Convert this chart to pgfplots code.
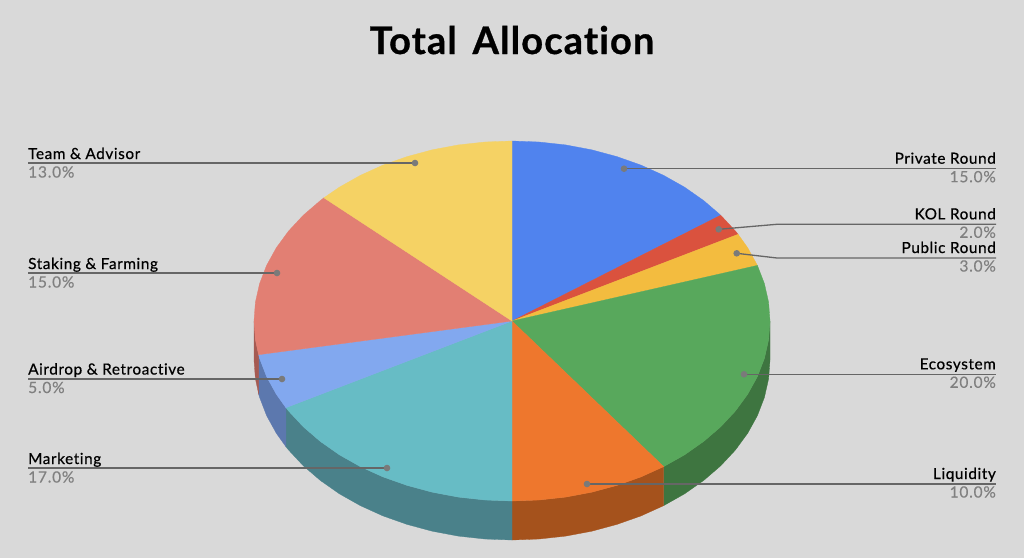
\documentclass[border=0pt]{standalone}
\usepackage{fontspec}
\usepackage{pgfplots}
\pgfplotsset{compat=1.18}
\setmainfont{Lato}
\newfontfamily\titlefont[FakeBold=0.8,LetterSpace=3,Ligatures=NoCommon]{Lato Bold}
\newfontfamily\namefont[FakeBold=0.5,LetterSpace=4,Ligatures=NoCommon]{Lato}
\newfontfamily\valfont[FakeBold=0.35,LetterSpace=5]{Lato}
\definecolor{bg}{HTML}{D9D9D9}
\definecolor{cblue}{HTML}{5083EE}
\definecolor{cred}{HTML}{DA523E}
\definecolor{cgold}{HTML}{F3BC3F}
\definecolor{cgreen}{HTML}{58A85C}
\definecolor{corange}{HTML}{EE772D}
\definecolor{cteal}{HTML}{67BCC5}
\definecolor{clblue}{HTML}{82A8EF}
\definecolor{csalmon}{HTML}{E27F73}
\definecolor{cyellow}{HTML}{F5D264}
\definecolor{sgreen}{HTML}{3E7540}
\definecolor{sorange}{HTML}{A5521C}
\definecolor{steal}{HTML}{4A818A}
\definecolor{sblue}{HTML}{5C78AE}
\definecolor{ssalmon}{HTML}{A55A52}
\definecolor{lead}{HTML}{666666}
\definecolor{dot}{HTML}{7A7A7A}
\definecolor{valc}{HTML}{808080}
\tikzset{
  wedge/.style={fill=#1,draw=#1,line width=0.3pt,mark=none},
  nametxt/.style={font=\namefont\fontsize{15.3pt}{15pt}\selectfont,text=black,inner sep=0pt},
  valtxt/.style={font=\valfont\fontsize{15.5pt}{15pt}\selectfont,text=valc,inner sep=0pt},
}
\pgfplotsset{
  leader/.style={color=lead,line width=1.3pt,mark=*,mark indices={1},mark size=2.6pt,
    mark options={fill=dot,draw=dot}},
}
\begin{document}
\begin{tikzpicture}
\begin{axis}[
  width=1024pt,height=558pt,scale only axis,
  xmin=0,xmax=1024,ymin=0,ymax=558,y dir=reverse,
  axis lines=none,clip=false,
]
\fill[bg] (rel axis cs:0,0) rectangle (rel axis cs:1,1);
% side walls
\addplot[wedge=sgreen] coordinates {(770,321)(768.6,339.8)(764.4,358.4)(757.4,376.6)(747.7,394.2)(735.4,411)(720.7,426.8)(703.7,441.4)(684.6,454.8)(663.7,466.6)(663.7,505.6)(684.6,493.8)(703.7,480.4)(720.7,465.8)(735.4,450)(747.7,433.2)(757.4,415.6)(764.4,397.4)(768.6,378.8)(770,360)} -- cycle;
\addplot[wedge=sorange] coordinates {(663.7,466.6)(641,476.9)(616.9,485.4)(591.7,492.2)(565.6,497.1)(539,500)(512,501)(512,540)(539,539)(565.6,536.1)(591.7,531.2)(616.9,524.4)(641,515.9)(663.7,505.6)} -- cycle;
\addplot[wedge=steal] coordinates {(512,501)(485,500)(458.4,497.1)(432.3,492.2)(407.1,485.4)(383,476.9)(360.3,466.6)(339.4,454.8)(320.3,441.4)(303.3,426.8)(288.6,411)(285.9,407.7)(285.9,446.7)(288.6,450)(303.3,465.8)(320.3,480.4)(339.4,493.8)(360.3,505.6)(383,515.9)(407.1,524.4)(432.3,531.2)(458.4,536.1)(485,539)(512,540)} -- cycle;
\addplot[wedge=sblue] coordinates {(285.9,407.7)(276.3,394.2)(266.6,376.6)(259.6,358.4)(258.6,354.7)(258.6,393.7)(259.6,397.4)(266.6,415.6)(276.3,433.2)(285.9,446.7)} -- cycle;
\addplot[wedge=ssalmon] coordinates {(258.6,354.7)(255.4,339.8)(254,321)(254,360)(255.4,378.8)(258.6,393.7)} -- cycle;
% top faces
\addplot[wedge=cblue] coordinates {(512,321)(512,141)(539,142)(565.6,144.9)(591.7,149.8)(616.9,156.6)(641,165.1)(663.7,175.4)(684.6,187.2)(703.7,200.6)(720.7,215.2)} -- cycle;
\addplot[wedge=cred] coordinates {(512,321)(720.7,215.2)(735.4,231)(738.1,234.3)} -- cycle;
\addplot[wedge=cgold] coordinates {(512,321)(738.1,234.3)(747.7,247.8)(757.4,265.4)} -- cycle;
\addplot[wedge=cgreen] coordinates {(512,321)(757.4,265.4)(764.4,283.6)(768.6,302.2)(770,321)(768.6,339.8)(764.4,358.4)(757.4,376.6)(747.7,394.2)(735.4,411)(720.7,426.8)(703.7,441.4)(684.6,454.8)(663.7,466.6)} -- cycle;
\addplot[wedge=corange] coordinates {(512,321)(663.7,466.6)(641,476.9)(616.9,485.4)(591.7,492.2)(565.6,497.1)(539,500)(512,501)} -- cycle;
\addplot[wedge=cteal] coordinates {(512,321)(512,501)(485,500)(458.4,497.1)(432.3,492.2)(407.1,485.4)(383,476.9)(360.3,466.6)(339.4,454.8)(320.3,441.4)(303.3,426.8)(288.6,411)(285.9,407.7)} -- cycle;
\addplot[wedge=clblue] coordinates {(512,321)(285.9,407.7)(276.3,394.2)(266.6,376.6)(259.6,358.4)(258.6,354.7)} -- cycle;
\addplot[wedge=csalmon] coordinates {(512,321)(258.6,354.7)(255.4,339.8)(254,321)(255.4,302.2)(259.6,283.6)(266.6,265.4)(276.3,247.8)(288.6,231)(303.3,215.2)(320.3,200.6)(323.9,197.8)} -- cycle;
\addplot[wedge=cyellow] coordinates {(512,321)(323.9,197.8)(339.4,187.2)(360.3,175.4)(383,165.1)(407.1,156.6)(432.3,149.8)(458.4,144.9)(485,142)(512,141)} -- cycle;
% leaders
\addplot[leader] coordinates {(624,168.7)(996,168.7)};
\addplot[leader] coordinates {(718.7,229.3)(776.7,224.3)(996,224.3)};
\addplot[leader] coordinates {(736.7,253.3)(777,258)(996,258)};
\addplot[leader] coordinates {(744,374.3)(996,374.3)};
\addplot[leader] coordinates {(587,484)(996,484)};
\addplot[leader] coordinates {(415,163)(28,163)};
\addplot[leader] coordinates {(277,273)(28,273)};
\addplot[leader] coordinates {(282,379)(28,379)};
\addplot[leader] coordinates {(387,468)(28,468)};
% text
\node[anchor=base,font=\titlefont\fontsize{38pt}{38pt}\selectfont] at (axis cs:512,54) {Total\hspace{0.14em} Allocation};
\node[nametxt,anchor=base east] at (axis cs:996,163.7) {Private Round};
\node[valtxt,anchor=base east] at (axis cs:996,182.2) {15.0\%};
\node[nametxt,anchor=base east] at (axis cs:996,219.3) {KOL Round};
\node[valtxt,anchor=base east] at (axis cs:996,237.8) {2.0\%};
\node[nametxt,anchor=base east] at (axis cs:996,253) {Public Round};
\node[valtxt,anchor=base east] at (axis cs:996,271.5) {3.0\%};
\node[nametxt,anchor=base east] at (axis cs:996,369.3) {Ecosystem};
\node[valtxt,anchor=base east] at (axis cs:996,387.8) {20.0\%};
\node[nametxt,anchor=base east] at (axis cs:996,479) {Liquidity};
\node[valtxt,anchor=base east] at (axis cs:996,497.5) {10.0\%};
\node[nametxt,anchor=base west] at (axis cs:28,159) {Team \& Advisor};
\node[valtxt,anchor=base west] at (axis cs:28,177.5) {13.0\%};
\node[nametxt,anchor=base west] at (axis cs:28,269) {Staking \& Farming};
\node[valtxt,anchor=base west] at (axis cs:28,287.5) {15.0\%};
\node[nametxt,anchor=base west] at (axis cs:28,374.5) {Airdrop \& Retroactive};
\node[valtxt,anchor=base west] at (axis cs:28,393) {5.0\%};
\node[nametxt,anchor=base west] at (axis cs:28,464) {Marketing};
\node[valtxt,anchor=base west] at (axis cs:28,482.5) {17.0\%};
\end{axis}
\end{tikzpicture}
\end{document}
